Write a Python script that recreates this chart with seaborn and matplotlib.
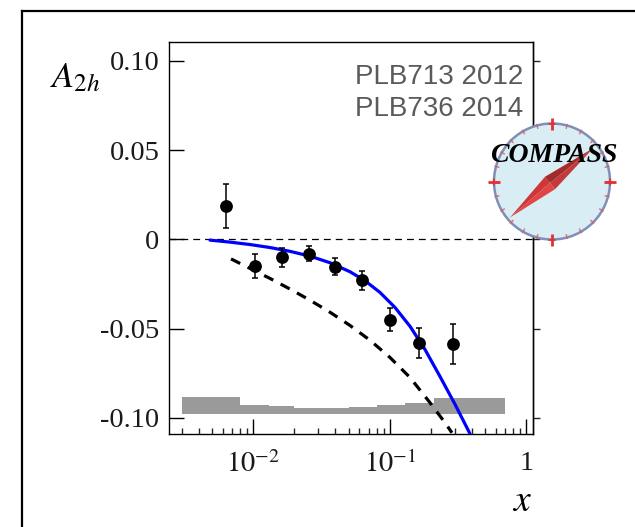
import numpy as np
import pandas as pd
import matplotlib
matplotlib.use("Agg")
import matplotlib.pyplot as plt
import seaborn as sns
from matplotlib.patches import Circle, Polygon
from matplotlib.ticker import FixedLocator, FixedFormatter, LogLocator, NullFormatter

# ---- COMPASS A_2h asymmetry versus x ----
x_data = [0.0063, 0.0103, 0.0163, 0.0255, 0.0397, 0.063, 0.101, 0.163, 0.290]
a_data = [0.0189, -0.0150, -0.0101, -0.0080, -0.0152, -0.0230, -0.0449, -0.0580, -0.0586]
a_stat = [0.0124, 0.0066, 0.0052, 0.0042, 0.0047, 0.0054, 0.0065, 0.0084, 0.0114]

# systematic uncertainty band (per x bin)
bin_edges = [0.003, 0.008, 0.013, 0.020, 0.032, 0.050, 0.080, 0.130, 0.210, 0.700]
a_syst = [0.0096, 0.0051, 0.0044, 0.0036, 0.0036, 0.0042, 0.0051, 0.0064, 0.0089]
syst_base = -0.0978

# model curves
fit_x = [0.004817, 0.006751, 0.009458, 0.01325, 0.01857, 0.02603, 0.03646, 0.05109,
         0.06581, 0.08478, 0.1092, 0.1406, 0.1811, 0.2333, 0.3005, 0.3868]
fit_a = [-0.00039, -0.00151, -0.00286, -0.00454, -0.00667, -0.00936, -0.01305, -0.01810,
         -0.02314, -0.02969, -0.03810, -0.04863, -0.06162, -0.07675, -0.09232, -0.1088]
alt_x = [0.006866, 0.009458, 0.01325, 0.01857, 0.02603, 0.03646, 0.05109, 0.0716,
         0.1003, 0.1406, 0.1970, 0.2537, 0.2855]
alt_a = [-0.01092, -0.01625, -0.02185, -0.02779, -0.03406, -0.04078, -0.04818, -0.05647,
         -0.06611, -0.07731, -0.09143, -0.1026, -0.1083]

y_ticks = [-0.10, -0.05, 0.0, 0.05, 0.10]
y_labels = ["-0.10", "-0.05", "0", "0.05", "0.10"]
x_ticks = [0.01, 0.1, 1.0]
x_labels = [r"$10^{-2}$", r"$10^{-1}$", "1"]

sns.set_theme(style="ticks")
plt.rcParams["font.family"] = ["Liberation Serif", "DejaVu Sans"]
plt.rcParams["mathtext.fontset"] = "stix"

W, H = 635, 527
fig = plt.figure(figsize=(W / 100, H / 100), dpi=100)
fig.patch.set_facecolor("white")

L, R, T, B = 169, 532.5, 42, 434
ax = fig.add_axes([L / W, 1 - B / H, (R - L) / W, (B - T) / H])
ax.set_facecolor("white")
ax.set_xscale("log")
ax.set_xlim(0.00241, 1.112)
ax.set_ylim(-0.109, 0.1106)

# systematic band
ax.stairs(np.array(a_syst) + syst_base, bin_edges, baseline=syst_base,
          fill=True, color="#9a9a9a", lw=0, zorder=1)

# zero line
ax.axhline(0, color="black", lw=0.9, ls=(0, (5.5, 4)), zorder=2)

# model curves
fit_df = pd.DataFrame({"x": fit_x, "A": fit_a})
alt_df = pd.DataFrame({"x": alt_x, "A": alt_a})
sns.lineplot(data=fit_df, x="x", y="A", ax=ax, color="#0000ff", lw=2.3, zorder=3)
sns.lineplot(data=alt_df, x="x", y="A", ax=ax, color="black", lw=2.3,
             linestyle=(0, (3.2, 2.6)), zorder=3)

# data points
ax.errorbar(x_data, a_data, yerr=a_stat, fmt="none", ecolor="black",
            elinewidth=1.1, capsize=2.5, capthick=1.1, zorder=4)
sns.scatterplot(x=x_data, y=a_data, ax=ax, color="black", s=85,
                edgecolor="black", linewidth=0, zorder=5)

ax.set_xlabel("")
ax.set_ylabel("")

# axes styling
for s in ax.spines.values():
    s.set_linewidth(1.0)
    s.set_color("black")
ax.yaxis.set_major_locator(FixedLocator(y_ticks))
ax.yaxis.set_major_formatter(FixedFormatter(y_labels))
ax.xaxis.set_major_locator(FixedLocator(x_ticks))
ax.xaxis.set_major_formatter(FixedFormatter(x_labels))
ax.xaxis.set_minor_locator(LogLocator(base=10, subs=np.arange(2, 10), numticks=20))
ax.xaxis.set_minor_formatter(NullFormatter())
ax.yaxis.set_minor_locator(FixedLocator([]))
ax.tick_params(axis="y", which="major", direction="in", length=10.8, width=1.0,
               left=True, right=False, labelsize=20.5, pad=7, colors="black")
ax.tick_params(axis="x", which="major", direction="in", length=10.5, width=1.0,
               bottom=True, top=False, labelsize=20.5, pad=12, colors="black")
ax.tick_params(axis="x", which="minor", direction="in", length=4.5, width=1.0,
               bottom=True, top=False)
for lab in ax.get_yticklabels() + ax.get_xticklabels():
    lab.set_color("#1a1a1a")

# outward ticks on the right-hand side
sec = ax.secondary_yaxis("right")
sec.yaxis.set_major_locator(FixedLocator(y_ticks))
sec.tick_params(axis="y", direction="out", length=5, width=1.0, labelright=False)
sec.spines["right"].set_linewidth(1.0)

# axis titles
fig.text(50 / W, 1 - 87 / H, r"$A_{2h}$", fontsize=26, math_fontfamily="stix",
         ha="left", va="baseline", color="black")
fig.text(522 / W, 1 - 511 / H, r"$x$", fontsize=27, math_fontfamily="stix",
         ha="center", va="baseline", color="black")

# publication references
for txt, yb in [("PLB713 2012", 83.5), ("PLB736 2014", 116.5)]:
    fig.text(523 / W, 1 - yb / H, txt, ha="right", va="baseline",
             family="Liberation Sans", fontsize=20, color="#5a5a5a")

# overlay in pixel coordinates: frame and logo
ov = fig.add_axes([0, 0, 1, 1])
ov.set_xlim(0, W)
ov.set_ylim(H, 0)
ov.axis("off")
ov.set_zorder(10)
ov.patch.set_alpha(0)

ov.plot([22.3, 22.3], [H + 2, 10.7], color="black", lw=1.6, solid_capstyle="projecting")
ov.plot([22.3, W + 2], [10.7, 10.7], color="black", lw=1.6, solid_capstyle="projecting")

cx, cy, rad = 552.0, 181.5, 58.0
ov.add_patch(Circle((cx, cy), rad, facecolor="#d9edf5", edgecolor="#7f8fba", lw=1.8, zorder=1))

# rim markers
for ang in np.arange(0, 360, 15):
    t = np.deg2rad(ang)
    ux, uy = np.cos(t), np.sin(t)
    if ang % 90 == 0:
        ov.plot([cx + ux * (rad - 6), cx + ux * (rad + 6)],
                [cy + uy * (rad - 6), cy + uy * (rad + 6)],
                color="#e03030", lw=2.0, zorder=2, solid_capstyle="butt")
        ov.plot([cx + ux * rad - uy * 3, cx + ux * rad + uy * 3],
                [cy + uy * rad + ux * 3, cy + uy * rad - ux * 3],
                color="#e03030", lw=1.2, zorder=2)
    else:
        ov.plot([cx + ux * (rad - 3), cx + ux * (rad + 1)],
                [cy + uy * (rad - 3), cy + uy * (rad + 1)],
                color="#e25a5a", lw=1.1, zorder=2, alpha=0.8)

# needle
sw = np.array([510.0, 217.5])
ne = np.array([593.5, 148.0])
mid = np.array([550.0, 183.0])
d = (ne - sw) / np.linalg.norm(ne - sw)
p = np.array([d[1], -d[0]])
hw = 8.0
left_pt = mid + p * hw
right_pt = mid - p * hw
ov.add_patch(Polygon([sw, mid, left_pt], closed=True, facecolor="#cf3636", lw=0, zorder=3))
ov.add_patch(Polygon([sw, mid, right_pt], closed=True, facecolor="#e24545", lw=0, zorder=3))
ov.add_patch(Polygon([ne, mid, left_pt], closed=True, facecolor="#a52b2b", lw=0, zorder=3))
ov.add_patch(Polygon([ne, mid, right_pt], closed=True, facecolor="#c23a3a", lw=0, zorder=3))

ov.text(554, 161.5, "COMPASS", ha="center", va="baseline", fontsize=20,
        family="Liberation Serif", fontweight="bold", fontstyle="italic",
        color="black", zorder=4)

fig.savefig("out.png", dpi=100, facecolor="white")
